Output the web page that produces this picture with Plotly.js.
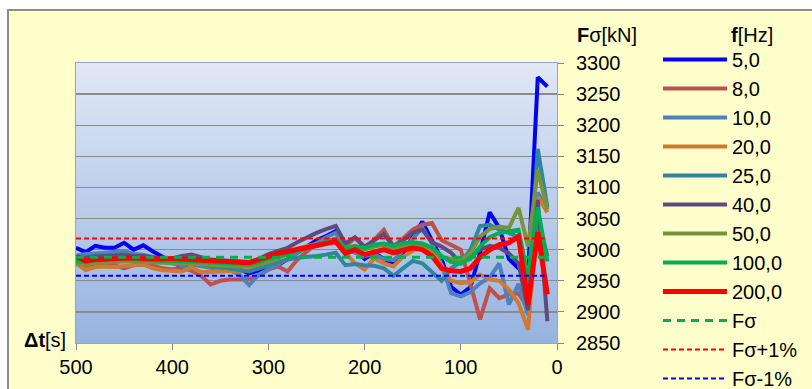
<!DOCTYPE html>
<html><head><meta charset="utf-8">
<script src="https://cdn.plot.ly/plotly-3.0.1.min.js"></script>
<style>html,body{margin:0;padding:0;background:#fff}#chart{width:812px;height:389px}</style>
</head><body><div id="chart"></div>
<script>
// ---- data ----
const dt = [500,490,480,470,460,450,440,430,420,410,400,390,380,370,360,350,340,330,320,310,
            300,290,280,270,260,250,240,230,220,210,200,190,180,170,160,150,140,130,120,110,
            100,90,80,70,60,50,40,30,20,10];
const seriesNames = ["5,0","8,0","10,0","20,0","25,0","40,0","50,0","100,0","200,0"];
const f5 = [3003,2996,3006,3003,3003,3011,3000,3007,2997,2988, 2980,2973,2979,2977,2976,2975,2972,2968,2962,2966,
            2970,2975,2985,2995,3005,3015,3022,3030,3008,3000, 2985,2995,2985,2978,2995,3020,3045,3015,2985,2940,
            2928,2940,2995,3060,3035,2985,2970,2962,3277,3262];
const f8 = [2978,2974,2977,2976,2975,2970,2975,2976,2974,2970, 2968,2971,2966,2958,2944,2950,2952,2952,2953,2958,
            2968,2973,2965,2984,2998,3010,3015,3016,3005,3019, 3003,3016,3032,3005,3018,3032,3040,3043,3015,3008,
            3000,2945,2888,2938,2922,2928,2930,2905,3050,2990];
const f10 = [2990,2993,2994,2995,2996,2998,2993,2992,2988,2982, 2978,2975,2976,2973,2970,2968,2967,2960,2943,2960,
             2968,2976,2985,2995,3003,3010,3020,3027,3000,2995, 2990,2992,2985,2983,2998,3018,3035,3010,2975,2930,
             2925,2932,2946,2955,2978,2912,2945,2895,3092,3065];
const f20 = [2978,2967,2972,2973,2972,2974,2975,2976,2970,2967, 2966,2965,2971,2964,2964,2965,2965,2966,2967,2970,
             2975,2985,2995,3002,3006,3009,3011,3016,2995,2978, 2968,2986,2978,2973,2989,2998,3005,2995,2975,2950,
             2946,2948,2960,2952,2950,2936,2914,2871,3085,3060];
const f25 = [2985,2988,2990,2990,2991,2993,2990,2989,2985,2981, 2980,2979,2978,2976,2974,2972,2970,2968,2965,2970,
             2975,2980,2984,2987,2988,2990,2992,2995,2975,2977, 2975,2974,2970,2958,2970,2982,2978,2965,2950,2970,
             2980,3000,3038,3040,3032,3027,3020,2935,3162,3068];
const f40 = [2988,2987,2989,2990,2990,2991,2990,2990,2988,2985, 2986,2990,2992,2988,2984,2983,2982,2981,2980,2985,
             2993,2998,3003,3012,3020,3027,3033,3038,3010,3020, 3005,3015,3025,3005,3015,3027,3032,3012,3005,2995,
             2978,2988,3000,3006,3003,2994,2978,2903,3080,2885];
const f50 = [2978,2976,2979,2980,2980,2981,2981,2980,2979,2978, 2978,2978,2977,2976,2975,2974,2974,2973,2973,2976,
             2980,2986,2993,2998,3003,3006,3010,3015,3003,3006, 3000,3005,3008,3000,3005,3010,3008,3000,2988,2985,
             2984,2994,3021,3033,3037,3035,3067,3005,3128,3064];
const f100 = [2982,2980,2983,2984,2984,2985,2984,2984,2983,2982, 2982,2981,2981,2980,2979,2979,2978,2977,2976,2980,
              2985,2990,2993,2997,3002,3008,3012,3016,3002,3005, 3003,3008,3010,3006,3010,3012,3010,3003,2990,2980,
              2978,2985,3005,3020,3027,3030,3032,2955,3068,2981];
const f200 = [2989,2982,2984,2985,2986,2986,2987,2986,2985,2985, 2986,2985,2984,2983,2982,2982,2981,2980,2979,2984,
              2990,2994,2997,3000,3004,3007,3010,3013,2994,3000, 2992,2997,3000,2995,3000,3003,3000,2990,2970,2966,
              2965,2970,2988,3000,3008,3011,3021,2912,3028,2928];
const F_SIGMA = 2988.0, F_PLUS = 3017.9, F_MINUS = 2958.1;
const yTicks = [2850,2900,2950,3000,3050,3100,3150,3200,3250,3300];
const xTicks = [500,400,300,200,100,0];

// ---- styling ----
const colors = ["#0000FF","#C0504D","#4F81BD","#D07A30","#31859C","#604A7B","#77933C","#00B050","#FF0000"];
const widths = [4,4,4,4,4,4,4,4,5];
const vals = [f5,f8,f10,f20,f25,f40,f50,f100,f200];

const traces = vals.map((v,i)=>({
  x: dt, y: v, type:'scatter', mode:'lines', name: seriesNames[i],
  line:{color:colors[i], width:widths[i]}
}));
const constLine = (val)=>dt.map(()=>val);
traces.push({x:dt, y:constLine(F_SIGMA), type:'scatter', mode:'lines', name:'Fσ', line:{color:'#00B050', width:3, dash:'8px,6px'}});
traces.push({x:dt, y:constLine(F_PLUS), type:'scatter', mode:'lines', name:'Fσ+1%', line:{color:'#FF0000', width:2, dash:'5px,3px'}});
traces.push({x:dt, y:constLine(F_MINUS), type:'scatter', mode:'lines', name:'Fσ-1%', line:{color:'#0000FF', width:2, dash:'5px,3px'}});

const L=76, R=255, T=63, B=46, W=812, H=389;
const pw = W-L-R, ph = H-T-B;
const px = p => (p-L)/pw;
const py = p => (H-B-p)/ph;

const grad = 'data:image/svg+xml;utf8,' + encodeURIComponent(
 '<svg xmlns="http://www.w3.org/2000/svg" width="100" height="100" preserveAspectRatio="none">'+
 '<defs><linearGradient id="g" x1="0" y1="0" x2="0" y2="1">'+
 '<stop offset="0" stop-color="#E1E8F5"/><stop offset="1" stop-color="#96B3E1"/></linearGradient></defs>'+
 '<rect width="100" height="100" fill="url(#g)"/></svg>');

const font = {family:'"Liberation Sans", Arial, sans-serif', size:20, color:'#000'};

const layout = {
  width:W, height:H,
  margin:{l:L, r:R, t:T, b:B, autoexpand:false},
  paper_bgcolor:'#FFFFCC', plot_bgcolor:'rgba(0,0,0,0)',
  font: font,
  showlegend:true,
  xaxis:{range:[500,0], tickvals:xTicks, ticktext:xTicks.map(String), ticks:'outside', ticklen:6, tickcolor:'#868686',
         showgrid:false, zeroline:false, showline:true, linecolor:'#8FA8C8', linewidth:1, mirror:true,
         ticklabelstandoff:0, tickfont:font},
  yaxis:{range:[2850,3300], tickvals:yTicks, ticktext:yTicks.map(String), side:'right', ticks:'outside', ticklen:6,
         tickcolor:'#868686', showgrid:true, gridcolor:'#8A8A8A', gridwidth:1.3, zeroline:false,
         showline:true, linecolor:'#8FA8C8', linewidth:1, mirror:true, ticklabelstandoff:8, tickfont:font},
  legend:{x:px(658), y:py(40), xanchor:'left', yanchor:'top', bgcolor:'rgba(0,0,0,0)', font:font,
          itemwidth:64, maxheight:420, traceorder:'normal', tracegroupgap:0},
  images:[{source:grad, xref:'paper', yref:'paper', x:0, y:1, sizex:1, sizey:1, sizing:'stretch',
           xanchor:'left', yanchor:'top', layer:'below'}],
  shapes:[
    {type:'rect', xref:'paper', yref:'paper', x0:px(-5), x1:px(W+5), y0:py(-5), y1:py(10), fillcolor:'#FFFFFF', line:{width:0}},
    {type:'rect', xref:'paper', yref:'paper', x0:px(-5), x1:px(8), y0:py(H+5), y1:py(10), fillcolor:'#FFFFFF', line:{width:0}},
    {type:'path', xref:'paper', yref:'paper', path:`M ${px(8)} ${py(H+5)} L ${px(8)} ${py(10)} L ${px(W+5)} ${py(10)}`,
     line:{color:'#8C8C8C', width:2}}
  ],
  annotations:[
    {text:'<b>Δt</b>[s]', xref:'paper', yref:'paper', x:px(68), y:py(340), xanchor:'right', yanchor:'middle', showarrow:false, font:font},
    {text:'<b>F</b>σ[kN]', xref:'paper', yref:'paper', x:px(575), y:py(35), xanchor:'left', yanchor:'middle', showarrow:false, font:font},
    {text:'<b>f</b>[Hz]', xref:'paper', yref:'paper', x:px(729), y:py(35), xanchor:'left', yanchor:'middle', showarrow:false, font:font}
  ]
};
Plotly.newPlot('chart', traces, layout, {displayModeBar:false, staticPlot:true});
</script></body></html>
